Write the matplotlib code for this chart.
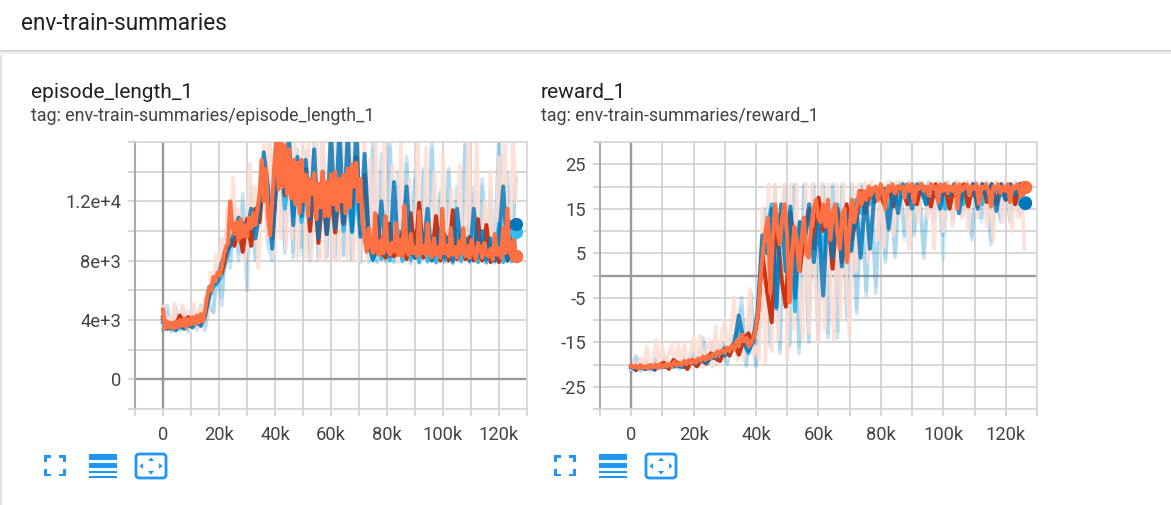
import numpy as np
import matplotlib
matplotlib.use("Agg")
import matplotlib.pyplot as plt
from matplotlib.patches import Rectangle, FancyBboxPatch, Polygon

plt.rcParams['font.family'] = ['Roboto', 'DejaVu Sans']

# ---------- episode_length_1 (thousands of steps) ----------
len_orange = [4.7,3.4,3.9,3.5,3.8,3.4,3.9,3.5,4.0,3.6,4.1,3.5,4.1,3.7,4.2,3.7,4.3,3.8,4.4,3.9,4.6,
              5.6,6.2,6.0,6.9,6.6,7.2,7.0,7.6,8.4,8.9,9.2,12.0,10.4,9.8,10.6,9.4,10.8,9.6,10.4,
              9.6,10.9,10.2,11.2,10.4,11.5,12.5,14.8,12.0,14.2,11.0,9.7,12.0,14.5,16.5,12.8,16.5,13.0,15.8,
              12.5,15.5,12.2,14.8,11.8,14.6,11.2,14.8,12.0,13.8,11.0,13.5,12.5,13.9,10.8,13.2,11.6,14.0,11.0,
              13.3,11.0,13.8,11.8,14.0,11.4,13.5,12.0,13.8,11.2,14.2,11.6,14.5,13.0,14.6,12.0,13.5,10.5,9.5,
              8.6,10.2,9.0,8.5,11.2,8.6,8.4,9.4,8.5,11.0,8.8,8.4,9.2,8.6,10.5,8.4,9.4,8.3,11.7,8.6,
              8.4,9.8,8.5,8.9,8.3,11.3,8.5,9.0,8.4,10.5,8.6,8.2,9.5,8.4,8.9,8.2,11.5,8.5,9.0,8.3,
              10.2,8.4,8.9,8.2,9.3,8.5,10.2,8.3,9.0,8.2,9.4,8.5,8.1,9.2,8.9,8.2,9.2,8.4,8.3,8.8,8.1,9.8,8.4,8.8,8.2,10.2,8.5,11.5,8.6,8.3,9.5,8.3]
len_blue = [4.0,3.4,3.5,3.3,3.6,3.4,3.7,3.5,3.9,3.6,4.3,6.2,6.4,6.6,7.9,8.6,9.0,10.0,10.9,10.5,10.0,11.5,9.5,11.4,15.3,13.0,8.8,13.5,15.8,12.5,16.4,10.4,15.0,11.0,14.8,10.8,15.5,9.5,14.0,9.8,16.8,10.2,17.0,10.5,16.6,10.0,17.0,9.6,15.2,
            9.5,8.1,8.8,12.0,8.5,8.3,13.3,8.4,9.5,13.0,8.6,8.2,10.6,8.8,11.5,8.0,8.9,10.2,8.2,9.6,8.0,11.5,8.7,9.5,8.0,11.5,8.2,10.0,8.1,9.5,8.0,9.5,13.0,8.0,9.5,10.5]
len_red = [4.2,3.6,3.8,3.6,4.3,3.8,4.2,3.8,4.2,3.9,4.4,5.8,6.6,7.0,7.2,8.4,9.4,9.0,10.2,8.6,10.8,9.0,11.5,10.6,14.0,12.0,9.6,13.5,16.2,12.4,15.0,13.0,14.5,11.8,14.2,10.0,13.5,9.2,12.5,9.8,12.8,9.9,13.5,10.5,13.0,11.8,15.0,11.0,13.8,
           9.2,8.4,11.0,8.6,8.2,10.5,8.3,8.6,10.0,8.1,11.2,8.2,11.9,8.2,10.4,8.1,11.0,8.0,9.8,8.0,11.4,8.1,9.7,8.1,9.6,8.0,10.8,8.0,10.4,7.9,8.8,7.9,9.6,8.0,10.6,8.3]
len_cyan = [3.8,3.5,3.4,3.4,3.6,3.5,3.6,3.6,3.8,3.7,4.2,5.5,6.2,6.5,7.0,8.0,9.0,9.5,10.2,10.5,10.0,11.0,10.2,11.0,14.0,12.5,9.5,13.0,15.0,11.5,14.0,11.0,13.5,10.6,13.0,10.2,13.0,9.6,12.5,9.8,12.5,10.0,12.6,10.0,12.5,9.9,12.8,9.8,12.0,
            9.0,8.0,10.2,8.1,10.4,8.0,9.0,10.0,8.0,10.0,8.1,10.0,7.9,9.8,8.0,9.6,7.9,9.8,8.0,9.5,7.9,10.0,8.0,9.5,8.0,9.4,7.9,9.2,7.9,9.2,8.0,10.5,7.9,9.5,8.0,9.9]
len_orange_raw = [4.9,3.3,4.2,3.4,5.1,3.3,4.4,5.0,3.4,4.6,3.3,5.1,3.5,4.8,3.4,
                  5.4,4.2,7.2,6.0,8.4,6.5,9.5,7.2,11.5,8.8,13.6,9.0,11.5,9.5,8.0,
                  9.0,14.5,9.2,13.0,7.5,11.0,15.8,9.5,17.0,12.0,8.5,17.0,9.5,17.0,8.9,
                  16.8,9.5,17.0,8.2,12.0,16.2,8.2,16.8,8.1,13.0,16.8,8.0,16.5,8.1,14.0,
                  17.0,8.0,16.4,8.0,13.0,17.0,8.1,15.8,8.0,16.6,8.0,12.0,16.5,8.0,14.9,
                  8.0,16.0,9.0,8.0,16.5,8.5,8.0,14.4,9.0,7.9,16.0,8.5,8.0,13.5,8.2,
                  8.0,16.2,8.4,8.0,15.6,8.6,8.0,14.0,8.2,8.0,15.2,7.9,9.0,12.8,8.0,
                  8.4,14.4,7.9,8.8,16.8,8.0,9.2,16.2,8.0,8.6,12.0,8.0,14.0,8.0,9.0,
                  15.0,8.0,17.0,8.2,9.0,16.2,12.0]
len_blue_raw = [3.3,5.0,3.2,4.9,3.3,4.5,3.2,4.6,3.3,5.0,3.3,4.9,4.5,7.5,5.0,10.0,7.5,11.5,8.0,12.5,6.0,13.0,8.0,12.5,15.0,9.0,8.0,14.5,16.5,8.5,16.0,8.2,15.5,8.9,15.4,8.0,16.4,8.0,16.8,8.3,16.6,8.1,16.8,8.4,16.5,8.1,16.9,7.9,15.0,7.9,16.6,7.9,15.2,8.0,16.5,7.9,14.0,7.9,15.0,7.8,13.5,7.9,14.2,7.9,16.5,7.9,12.5,7.9,14.2,7.8,13.0,7.9,16.8,7.9,13.0,7.9,13.5,7.8,12.5,7.9,16.5,7.9,14.0,7.9,13.5]
len_cyan_raw = [3.4,4.6,3.3,4.4,3.4,4.8,3.3,4.4,3.5,4.6,3.6,5.6,4.5,7.8,5.5,9.0,8.0,12.0,8.5,11.8,8.5,12.5,8.2,13.5,14.5,9.5,9.0,13.5,15.2,9.0,15.0,8.6,14.5,8.4,14.6,8.5,15.5,8.3,14.8,8.2,15.5,8.4,16.0,8.3,15.8,8.0,16.2,8.1,14.5,8.0,15.5,7.9,14.0,7.9,15.6,7.9,13.0,8.0,14.5,7.9,14.0,7.8,13.8,7.9,15.5,7.8,12.8,7.9,13.8,7.8,12.0,7.9,15.8,7.8,12.5,7.9,13.0,7.9,12.6,7.8,16.6,7.9,13.0,7.9,13.9]

# ---------- reward_1 ----------
rew_orange = [-20.4,-20.7,-20.2,-20.9,-20.3,-20.8,-20.4,-20.9,-20.1,-20.7,-20.0,-20.8,-19.9,-20.6,-20.0,-20.4,-19.8,-20.4,-19.4,-20.3,-19.6,
              -20.2,-19.2,-19.9,-19.0,-19.8,-19.0,-19.6,-18.6,-19.2,-18.2,-19.0,-18.0,-18.6,-17.6,-18.2,-17.0,-17.6,-16.8,-17.4,
              -16.2,-17.0,-15.6,-16.6,-14.5,-15.8,-13.2,-14.8,-14.0,-16.0,-15.2,-14.0,-12.0,-8.0,0.0,6.0,10.0,13.0,-4.0,
              8.0,16.0,10.0,7.0,13.0,16.0,9.0,-6.0,4.0,11.0,8.0,1.0,8.0,13.0,5.0,4.0,11.0,15.0,17.0,
              13.0,12.0,16.0,11.0,17.0,8.0,14.0,16.0,9.0,6.0,14.0,15.0,3.0,10.0,17.0,12.0,15.0,19.0,16.0,
              19.0,17.0,20.0,18.0,19.5,20.0,17.0,20.5,19.0,15.0,20.0,19.0,20.5,18.5,20.0,19.5,20.0,17.5,20.5,19.0,
              20.5,16.5,20.0,19.5,20.5,19.0,20.0,18.0,20.5,19.5,20.0,16.5,20.5,19.0,20.5,18.5,20.0,19.0,20.5,15.0,
              20.5,19.0,20.0,20.5,18.0,20.0,19.5,20.5,16.0,20.0,19.5,20.5,19.0,15.5,20.0,19.5,20.5,18.5,20.0,19.0,20.5,16.5,20.0,19.5,20.5,19.0,16.0,20.0]
rew_blue = [-20.6,-21.0,-20.7,-21.0,-20.7,-21.0,-20.3,-20.6,-20.2,-20.5,-20.3,-20.6,-19.6,-19.8,-19.6,-19.0,-19.6,-18.6,-18.4,-17.4,-18.0,-16.5,-15.5,-9.0,-14.5,-17.0,-15.0,-8.0,9.0,5.0,15.0,-7.0,16.0,1.0,15.5,-5.0,12.0,7.0,16.0,3.0,12.0,-4.5,16.0,4.0,15.0,2.0,14.0,5.5,16.0,4.0,18.5,
            6.0,19.0,18.0,19.5,10.5,20.0,14.0,20.5,19.0,15.0,20.5,19.0,16.0,20.5,19.0,15.0,20.5,18.0,20.5,14.0,20.0,18.0,20.5,15.0,20.5,17.5,20.5,14.5,20.5,17.0,20.5,18.0,20.5,16.4]
rew_red = [-20.3,-21.3,-20.2,-21.0,-20.2,-21.2,-20.1,-19.6,-21.0,-19.0,-19.8,-20.0,-21.0,-19.0,-20.4,-19.0,-19.8,-17.5,-18.6,-19.2,-16.5,-18.0,-15.5,-17.8,-14.5,-13.0,-15.0,-9.5,5.0,-3.5,-10.5,14.0,0.0,-7.0,14.0,6.0,1.0,10.0,15.0,6.0,17.5,10.0,14.0,1.5,15.0,3.0,16.0,8.0,12.0,19.0,14.0,
           19.5,16.5,19.0,16.0,20.0,15.5,20.0,19.0,16.0,20.5,16.0,20.5,19.0,15.5,20.5,17.5,20.0,15.0,20.5,17.0,20.5,15.5,20.5,15.5,20.5,16.5,20.5,16.0,20.5,17.0,20.5,16.0,20.5,20.0]
rew_cyan = [-20.6,-20.9,-20.6,-20.9,-20.6,-20.8,-20.4,-20.5,-20.2,-20.3,-20.1,-20.3,-19.7,-19.7,-19.4,-19.1,-18.3,-18.0,-17.5,-17.5,-16.2,-16.5,-15.5,-12.0,-15.0,-17.5,-14.0,-10.0,7.0,10.0,16.0,-7.5,14.0,8.0,14.5,-8.0,12.0,8.0,14.0,6.0,14.0,4.0,15.0,8.0,16.0,8.0,15.0,6.0,17.0,14.0,18.0,
            16.0,19.5,18.0,19.5,15.0,20.0,16.0,20.0,17.0,20.0,17.0,20.0,16.0,20.0,18.0,20.0,15.0,20.0,18.0,20.0,16.0,20.0,18.0,20.0,16.0,20.0,17.0,20.0,18.0,20.0,17.0,20.0,16.0,16.5]
rew_orange_raw = [-21.0,-19.5,-21.0,-18.5,-21.0,-16.0,-20.5,-19.0,-14.5,-20.5,-16.0,-20.5,-18.0,-15.5,-20.0,
                  -15.5,-19.5,-15.0,-20.5,-17.0,-14.0,-20.5,-13.5,-20.5,-17.0,-14.5,-20.5,-11.5,-20.0,-13.0,
                  -10.0,-18.5,-12.0,-5.0,-19.0,-9.0,-19.0,-14.0,-3.0,-18.0,-16.0,-19.0,15.0,-19.5,20.5,
                  -17.0,20.5,-14.5,12.0,20.5,-19.0,20.5,-12.0,20.5,-4.0,-14.5,20.5,-13.0,20.5,-3.0,
                  -15.0,20.5,-12.0,20.5,-5.0,-14.5,20.5,-10.0,20.5,-2.0,-14.0,20.5,1.0,20.5,13.0,
                  21.0,3.0,21.0,16.0,8.0,21.0,6.5,21.0,18.0,9.0,21.0,13.0,21.0,17.0,6.0,
                  21.0,17.0,12.0,21.0,18.0,13.0,21.0,6.0,21.0,18.0,10.0,21.0,17.0,11.0,21.0,
                  18.0,13.0,21.0,10.0,21.0,18.0,13.0,21.0,17.0,11.0,21.0,8.0,21.0,18.0,12.0,
                  21.0,16.0,10.0,21.0,13.0,21.0,6.0]
rew_blue_raw = [-21.5,-18.0,-21.5,-19.0,-21.5,-18.5,-21.0,-18.0,-21.0,-18.5,-21.0,-18.0,-20.5,-17.5,-20.5,-14.0,-20.0,-15.0,-20.0,-15.0,-20.0,-14.0,-13.0,-5.0,-20.5,-4.0,-20.5,-8.0,15.0,-16.0,20.0,-17.5,20.0,-16.0,20.5,-17.5,20.5,-15.0,20.5,-14.5,20.5,-14.0,20.5,-14.0,20.5,-9.0,20.5,-8.5,20.5,-4.5,20.5,-4.0,20.5,3.0,21.0,4.0,21.0,9.0,21.0,9.0,21.0,4.0,21.0,12.0,21.0,9.0,21.0,12.0,21.0,13.0,21.0,8.0,21.0,13.0,21.0,7.0,21.0,12.0,21.0,12.0,21.0,14.0,15.0]
rew_cyan_raw = [-21.2,-18.5,-21.2,-19.5,-21.0,-19.0,-20.8,-18.8,-20.8,-19.0,-20.6,-18.5,-20.2,-18.0,-20.0,-15.5,-19.6,-16.0,-19.5,-15.5,-19.5,-15.0,-14.0,-7.0,-20.0,-6.0,-20.0,-9.0,14.0,-15.0,19.5,-16.5,19.5,-15.5,20.0,-16.0,20.0,-14.0,20.0,-13.5,20.0,-13.0,20.0,-12.5,20.0,-10.0,20.0,-7.5,20.0,-3.5,20.0,-2.5,20.0,4.0,20.5,5.0,20.5,8.0,20.5,10.0,20.5,5.0,20.5,13.0,20.5,3.5,20.5,13.0,20.5,14.0,20.5,9.0,20.5,12.0,20.5,8.0,20.5,13.0,20.5,13.0,20.5,13.5,16.0]

ORANGE, BLUE, RED, CYAN = '#ff7043', '#0077bb', '#cc3311', '#33bbee'
W, H = 1171, 505
fig = plt.figure(figsize=(W/100, H/100), dpi=100, facecolor='white')

def axes_px(l, t, r, b):
    return fig.add_axes([l/W, 1-b/H, (r-l)/W, (b-t)/H], facecolor='none')

def draw_panel(ax, raws, lines, ylim, ymajor, ylabels):
    ax.set_xlim(-10000, 130000)
    ax.set_ylim(*ylim)
    ax.set_xticks(np.arange(-10000, 130001, 10000))
    ax.set_xticklabels(['' if (v % 20000 or v < 0) else ('0' if v == 0 else f'{v//1000}k')
                        for v in range(-10000, 130001, 10000)])
    ax.set_yticks(ymajor)
    ax.set_yticklabels(ylabels)
    ax.grid(True, color='#cfcfcf', lw=1.2)
    ax.set_axisbelow(True)
    ax.tick_params(axis='both', colors='#cfcfcf', labelcolor='#444444', labelsize=13.2,
                   length=5, width=1.2, pad=5)
    ax.tick_params(axis='x', pad=7)
    for s in ('left', 'right', 'top', 'bottom'):
        ax.spines[s].set_color('#d8d8d8')
        ax.spines[s].set_linewidth(1.2)
    ax.spines['left'].set_color('#aaaaaa')
    ax.spines['left'].set_linewidth(1.5)
    ax.axvline(0, color='#999999', lw=1.7, zorder=1.5)
    ax.axhline(0, color='#999999', lw=1.7, zorder=1.5)
    for vals, c, a in raws:
        x = np.linspace(0, 126000, len(vals))
        ax.plot(x, vals, color=c, alpha=a, lw=2.7, solid_joinstyle='round', zorder=2)
    for vals, c, a in lines:
        x = np.linspace(0, 126000, len(vals))
        ax.plot(x, vals, color=c, alpha=a, lw=2.9, solid_joinstyle='round', zorder=3)
        ax.plot(x[-1:], np.asarray(vals)[-1:], 'o', color=c, ms=9.5, mew=0, zorder=3.5, clip_on=False)

PINK = '#ffdcd2'
k = lambda s: np.array(s) * 1000

# left chart
ax1 = axes_px(135, 142, 527, 409)
draw_panel(ax1,
           [(k(len_cyan_raw), CYAN, .2), (k(len_blue_raw), BLUE, .2), (k(len_orange_raw), PINK, .85)],
           [(k(len_cyan), CYAN, 1), (k(len_red), RED, 1), (k(len_blue), BLUE, .82), (k(len_orange), ORANGE, 1)],
           (-2000, 16000), np.arange(-2000, 16001, 2000),
           ['', '0', '', '4e+3', '', '8e+3', '', '1.2e+4', '', ''])

# right chart
ax2 = axes_px(600, 142, 1037, 409)
draw_panel(ax2,
           [(rew_cyan_raw, CYAN, .2), (rew_blue_raw, BLUE, .2), (rew_orange_raw, PINK, .85)],
           [(rew_cyan, CYAN, 1), (rew_red, RED, 1), (rew_blue, BLUE, .82), (rew_orange, ORANGE, 1)],
           (-30, 30), np.arange(-30, 31, 5),
           ['', '-25', '', '-15', '', '-5', '', '5', '', '15', '', '25', ''])

# overlay for page chrome, titles and icons, in pixel coordinates
ov = fig.add_axes([0, 0, 1, 1], facecolor='none')
ov.set_xlim(0, W); ov.set_ylim(H, 0); ov.axis('off')
ov.add_patch(Rectangle((0, 50), 1.5, H-50, color='#e0e0e0', lw=0))
shadow = ['#d0d0d0', '#dedede', '#ebebeb', '#f4f4f4', '#fafafa']
for i, c in enumerate(shadow):
    ov.add_patch(Rectangle((0, 49.5+i), W, 1, color=c, lw=0))
ov.text(21, 24, 'env-train-summaries', fontsize=16.3, color='#212121', va='center')
for x0, title, tag in [(31, 'episode_length_1', 'tag: env-train-summaries/episode_length_1'),
                       (541, 'reward_1', 'tag: env-train-summaries/reward_1')]:
    ov.text(x0, 93, title, fontsize=15, color='#212121', va='center')
    ov.text(x0, 116, tag, fontsize=12.9, color='#424242', va='center')

ICON = '#2196f3'
for dx in (0, 510):
    for (cx, cy, sx, sy) in [(44, 455, 1, 1), (65.5, 455, -1, 1), (44, 476, 1, -1), (65.5, 476, -1, -1)]:
        ov.add_patch(Rectangle((cx+dx, cy), 7*sx, 2.5*sy, color=ICON, lw=0))
        ov.add_patch(Rectangle((cx+dx, cy), 2.5*sx, 7*sy, color=ICON, lw=0))
    for top, h in [(454, 6), (463, 4.5), (470.5, 2.5), (476, 1.5)]:
        ov.add_patch(Rectangle((89+dx, top), 28, h, color=ICON, lw=0))
    ov.add_patch(FancyBboxPatch((136+dx, 454), 30, 24, boxstyle='round,pad=0,rounding_size=3',
                                fc='white', ec=ICON, lw=2))
    for pts in [[(148, 461), (151, 457.5), (154, 461)], [(148, 471), (151, 474.5), (154, 471)],
                [(143, 463), (139.5, 466), (143, 469)], [(159, 463), (162.5, 466), (159, 469)]]:
        ov.add_patch(Polygon([(px+dx, py) for px, py in pts], color=ICON, lw=0))

fig.savefig('out.png', dpi=100, facecolor='white')
